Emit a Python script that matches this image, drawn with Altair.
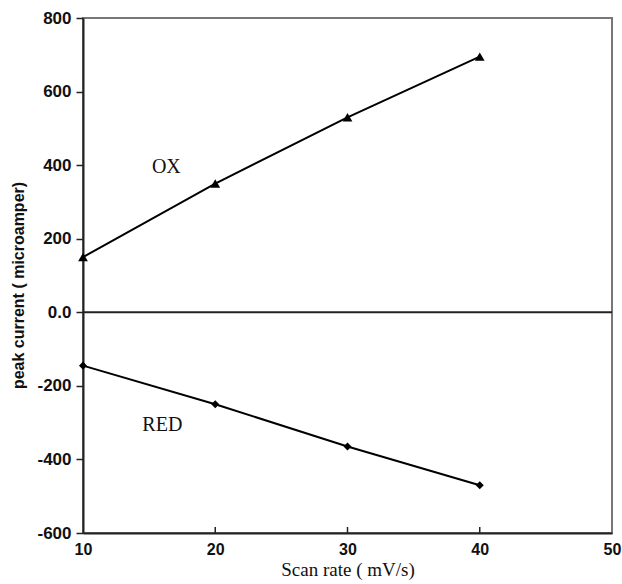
import altair as alt
import pandas as pd

# Peak current versus scan rate for the oxidation and reduction peaks
scan_rate = [10, 20, 30, 40]
ox_current = [150, 350, 530, 695]
red_current = [-145, -250, -365, -470]

y_ticks = [-600, -400, -200, 0, 200, 400, 600, 800]
x_ticks = [10, 20, 30, 40, 50]

ox = pd.DataFrame({"rate": scan_rate, "current": ox_current})
red = pd.DataFrame({"rate": scan_rate, "current": red_current})
labels = pd.DataFrame({"rate": [16.3, 16.0], "current": [394, -307], "text": ["OX", "RED"]})

x_scale = alt.Scale(domain=[10, 50], nice=False)
y_scale = alt.Scale(domain=[-600, 800], nice=False)

x_enc = alt.X(
    "rate:Q",
    scale=x_scale,
    title="Scan rate ( mV/s)",
    axis=alt.Axis(values=x_ticks, ticks=False, grid=False, labelPadding=8,
                  titlePadding=3, labelFlush=False),
)
y_enc = alt.Y(
    "current:Q",
    scale=y_scale,
    title="peak current ( microamper)",
    axis=alt.Axis(values=y_ticks, tickSize=7, grid=False, labelPadding=5,
                  titlePadding=10, titleY=267,
                  labelExpr="datum.value == 0 ? '0.0' : datum.value"),
)

zero = (
    alt.Chart(pd.DataFrame({"current": [0]}))
    .mark_rule(color="#222", strokeWidth=2)
    .encode(y=alt.Y("current:Q", scale=y_scale))
)

inner_ticks = (
    alt.Chart(pd.DataFrame({"rate": [20, 30, 40]}))
    .mark_rule(color="#222", strokeWidth=1.5)
    .encode(x=alt.X("rate:Q", scale=x_scale), y=alt.value(515), y2=alt.value(509))
)

ox_line = alt.Chart(ox).mark_line(color="black", strokeWidth=2).encode(x=x_enc, y=y_enc)
ox_pts = alt.Chart(ox).mark_point(shape="triangle-up", filled=True, color="black",
                                  size=95, opacity=1).encode(x="rate:Q", y="current:Q")
red_line = alt.Chart(red).mark_line(color="black", strokeWidth=2).encode(x="rate:Q", y="current:Q")
red_pts = alt.Chart(red).mark_point(shape="diamond", filled=True, color="black",
                                    size=65, opacity=1).encode(x="rate:Q", y="current:Q")

text = (
    alt.Chart(labels)
    .mark_text(font="Liberation Serif", fontSize=20, color="#111", align="center",
               baseline="middle")
    .encode(x="rate:Q", y="current:Q", text="text:N")
)

chart = (
    alt.layer(ox_line, zero, inner_ticks, ox_pts, red_line, red_pts, text)
    .properties(
        width=529,
        height=515,
        autosize=alt.AutoSizeParams(type="none"),
        padding={"left": 83, "top": 18, "right": 10, "bottom": 51},
        background="white",
    )
    .configure_view(stroke="#777", strokeWidth=2)
    .configure_axis(
        domainColor="#222",
        domainWidth=2,
        tickColor="#222",
        tickWidth=1.5,
        labelColor="#111",
        titleColor="#111",
    )
    .configure_axisY(labelFont="Liberation Sans", labelFontSize=17, labelFontWeight="bold",
                     titleFont="Liberation Sans", titleFontSize=16, titleFontWeight="bold")
    .configure_axisX(labelFont="Liberation Sans", labelFontSize=16, labelFontWeight="bold",
                     titleFont="Liberation Serif", titleFontSize=19, titleFontWeight="normal")
)

chart.save("out.html", embed_options={"renderer": "svg", "actions": False})
